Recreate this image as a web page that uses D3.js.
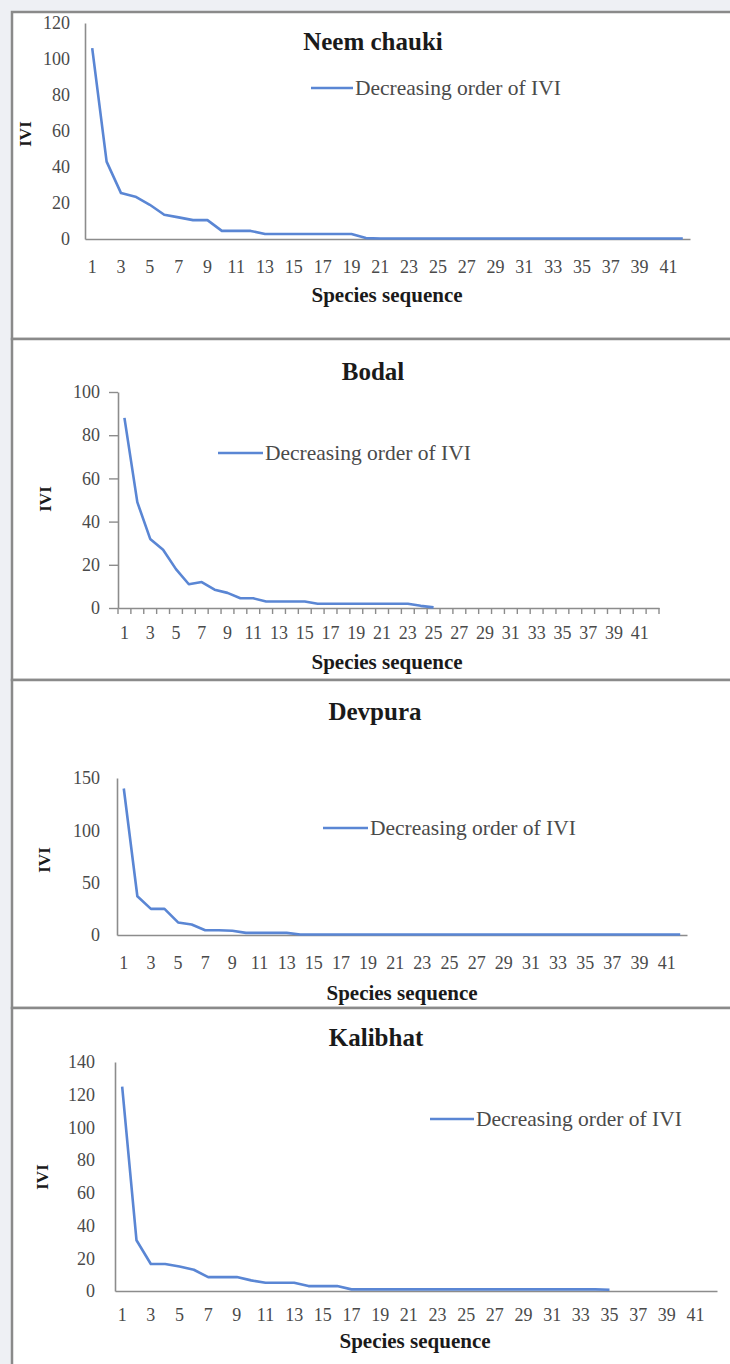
<!DOCTYPE html>
<html><head><meta charset="utf-8">
<script src="https://cdn.jsdelivr.net/npm/d3@7"></script>
<style>
html,body{margin:0;padding:0;background:#eef0f4;}
svg{display:block;}
text{font-family:"Liberation Serif","Times New Roman",serif;}
</style></head>
<body>
<script>
// ---- data ----
const categories = [1,2,3,4,5,6,7,8,9,10,11,12,13,14,15,16,17,18,19,20,21,22,23,24,25,26,27,28,29,30,31,32,33,34,35,36,37,38,39,40,41,42];
const xTickLabels = [1,3,5,7,9,11,13,15,17,19,21,23,25,27,29,31,33,35,37,39,41];
const siteNames = ["Neem chauki","Bodal","Devpura","Kalibhat"];
const seriesName = "Decreasing order of IVI";
const neemChauki = [106,43,25.5,23.5,19,13.5,12,10.5,10.5,4.5,4.5,4.5,2.8,2.8,2.8,2.8,2.8,2.8,2.8,0.5,0.3,0.3,0.3,0.3,0.3,0.3,0.3,0.3,0.3,0.3,0.3,0.3,0.3,0.3,0.3,0.3,0.3,0.3,0.3,0.3,0.3,0.3];
const bodal = [88,49,32,27,18,11,12,8.5,7,4.5,4.5,3,3,3,3,2,2,2,2,2,2,2,2,1,0.3];
const devpura = [140,37,25,25,12,10,4.5,4.5,4,2,2,2,2,0.5,0.5,0.5,0.5,0.5,0.5,0.5,0.5,0.5,0.5,0.5,0.5,0.5,0.5,0.5,0.5,0.5,0.5,0.5,0.5,0.5,0.5,0.5,0.5,0.5,0.5,0.5,0.5,0.5];
const kalibhat = [125,31,16.5,16.5,15,13,8.5,8.5,8.5,6.5,5,5,5,3,3,3,1,1,1,1,1,1,1,1,1,1,1,1,1,1,1,1,1,1,0.8];
const yTicksNeem = [0,20,40,60,80,100,120];
const yTicksBodal = [0,20,40,60,80,100];
const yTicksDevpura = [0,50,100,150];
const yTicksKalibhat = [0,20,40,60,80,100,120,140];

// ---- layout ----
const W = 730, H = 1364;
const svg = d3.select("body").append("svg").attr("width", W).attr("height", H);
svg.append("rect").attr("width", W).attr("height", H).attr("fill", "#eef0f4");

const panels = [
  {values: neemChauki, yTicks: yTicksNeem, top: 12, bottom: 339, x0: 85, x1: 690, y0: 239, yTop: 23,
   title: [373, 50], legend: [311, 88, 355], ivi: [25, 134], xt: [387, 302], xPad: 21, yPad: 15, ticks: false},
  {values: bodal, yTicks: yTicksBodal, top: 339, bottom: 680, x0: 118, x1: 659, y0: 608, yTop: 392,
   title: [373, 380], legend: [218, 453, 265], ivi: [45, 499], xt: [387, 669], xPad: 18, yPad: 18, ticks: true},
  {values: devpura, yTicks: yTicksDevpura, top: 680, bottom: 1008, x0: 117, x1: 687, y0: 935, yTop: 778,
   title: [375, 720], legend: [323, 828, 370], ivi: [44, 860], xt: [402, 1000], xPad: 21, yPad: 17, ticks: false},
  {values: kalibhat, yTicks: yTicksKalibhat, top: 1008, bottom: 1370, x0: 115, x1: 717, y0: 1291, yTop: 1062,
   title: [376, 1046], legend: [430, 1119, 476], ivi: [42, 1177], xt: [415, 1348], xPad: 17, yPad: 20, ticks: false}
];

const lineColor = "#5a86d4";
const axisColor = "#8c8c8c";
const serif = "'Liberation Serif', 'Times New Roman', serif";

panels.forEach((p, i) => {
  const g = svg.append("g");
  g.append("rect").attr("x", 12).attr("y", p.top).attr("width", W + 10).attr("height", p.bottom - p.top)
    .attr("fill", "#ffffff").attr("stroke", "#8a8a8a").attr("stroke-width", 2.5);

  const x = d3.scaleBand().domain(categories).range([p.x0, p.x1]);
  const y = d3.scaleLinear().domain([0, d3.max(p.yTicks)]).range([p.y0, p.yTop]);

  // y axis
  const ya = g.append("g").attr("transform", `translate(${p.x0},0)`)
    .call(d3.axisLeft(y).tickValues(p.yTicks).tickSize(p.ticks ? 9 : 0).tickPadding(p.yPad - (p.ticks ? 9 : 0)).tickSizeOuter(0))
    .attr("font-family", serif).attr("font-size", 18);
  ya.select(".domain").attr("stroke", axisColor).attr("stroke-width", 1.6);
  ya.selectAll(".tick line").attr("stroke", axisColor).attr("stroke-width", 1.4);
  ya.selectAll(".tick text").attr("fill", "#4a4a4a");

  // x axis
  const xa = g.append("g").attr("transform", `translate(0,${p.y0})`)
    .call(d3.axisBottom(x).tickValues(xTickLabels).tickSize(0).tickPadding(p.xPad).tickSizeOuter(0))
    .attr("font-family", serif).attr("font-size", 18);
  xa.select(".domain").attr("stroke", axisColor).attr("stroke-width", 1.6);
  xa.selectAll(".tick text").attr("fill", "#4a4a4a");
  if (p.ticks) {
    const edges = categories.map(c => x(c)).concat([p.x1]);
    g.append("g").selectAll("line").data(edges).join("line")
      .attr("x1", d => d).attr("x2", d => d).attr("y1", p.y0).attr("y2", p.y0 + 6)
      .attr("stroke", axisColor).attr("stroke-width", 1.4);
  }

  // series line
  const line = d3.line().x((d, k) => x(categories[k]) + x.bandwidth() / 2).y(d => y(d));
  g.append("path").datum(p.values).attr("d", line)
    .attr("fill", "none").attr("stroke", lineColor).attr("stroke-width", 2.6).attr("stroke-linejoin", "round");

  // title
  g.append("text").attr("x", p.title[0]).attr("y", p.title[1]).attr("text-anchor", "middle")
    .style("font-size", "25px").style("font-weight", "bold").attr("fill", "#1a1a1a").text(siteNames[i]);

  // legend
  g.append("line").attr("x1", p.legend[0]).attr("x2", p.legend[2] - 2).attr("y1", p.legend[1]).attr("y2", p.legend[1])
    .attr("stroke", lineColor).attr("stroke-width", 2.6);
  g.append("text").attr("x", p.legend[2]).attr("y", p.legend[1] + 7)
    .style("font-size", "21.5px").attr("fill", "#4a4a4a").text(seriesName);

  // axis titles
  g.append("text").attr("transform", `translate(${p.ivi[0] + 6},${p.ivi[1]}) rotate(-90)`).attr("text-anchor", "middle")
    .style("font-size", "17px").style("font-weight", "bold").attr("fill", "#1a1a1a").text("IVI");
  g.append("text").attr("x", p.xt[0]).attr("y", p.xt[1]).attr("text-anchor", "middle")
    .style("font-size", "21px").style("font-weight", "bold").attr("fill", "#1a1a1a").text("Species sequence");
});
</script>
</body></html>
